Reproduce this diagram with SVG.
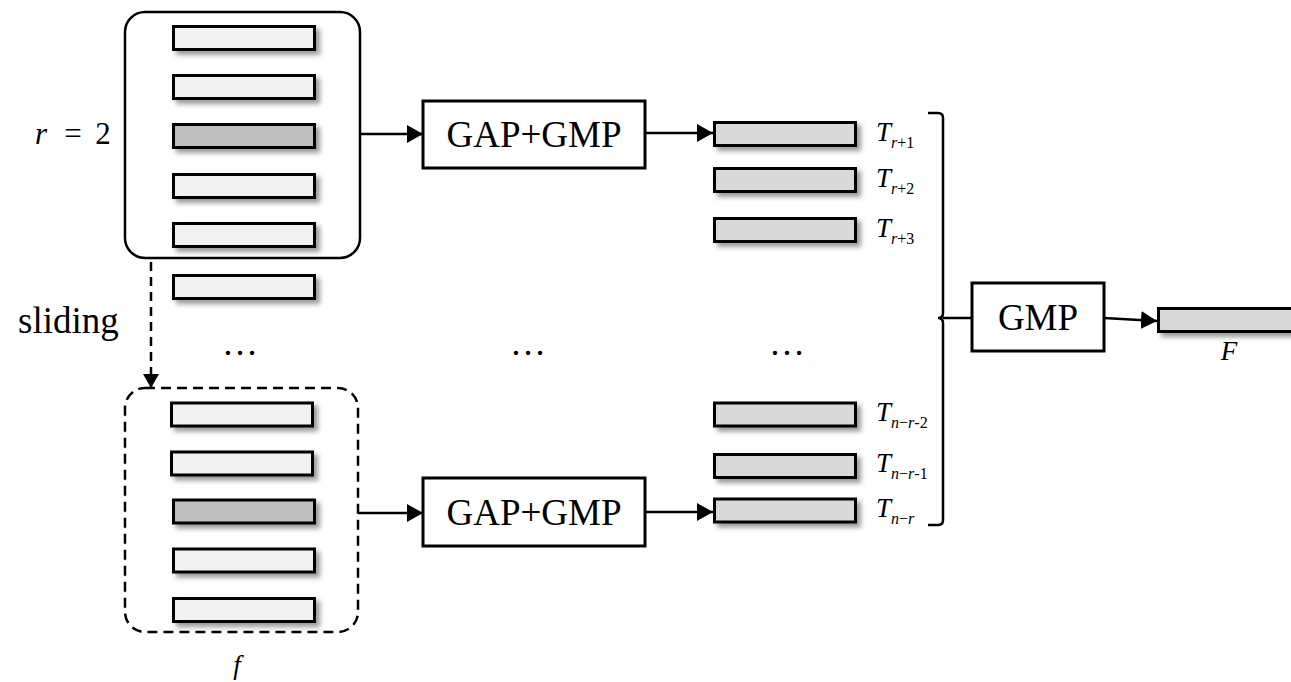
<svg xmlns="http://www.w3.org/2000/svg" width="1291" height="682" viewBox="0 0 1291 682">
<defs>
<filter id="sh" x="-10%" y="-40%" width="130%" height="200%">
<feDropShadow dx="4" dy="4" stdDeviation="2.5" flood-color="#000" flood-opacity="0.4"/>
</filter>
<marker id="ah" markerWidth="16" markerHeight="18" refX="16" refY="9" orient="auto" markerUnits="userSpaceOnUse">
<path d="M0,0 L16,9 L0,18 Z" fill="#000"/>
</marker>
<marker id="ahs" markerWidth="14" markerHeight="16" refX="14" refY="8" orient="auto" markerUnits="userSpaceOnUse">
<path d="M0,0 L14,8 L0,16 Z" fill="#000"/>
</marker>
</defs>
<style>
.bar{stroke:#000;stroke-width:3;filter:url(#sh)}
.lt{fill:#f1f1f1}
.dk{fill:#bfbfbf}
.tb{fill:#d9d9d9}
.box{fill:#fff;stroke:#000;stroke-width:3}
.win{fill:none;stroke:#000;stroke-width:2.5}
text{font-family:'Liberation Serif','Times New Roman','DejaVu Serif',serif;fill:#000}
.big{font-size:37px;text-anchor:middle}
.t{font-size:27px;font-style:italic}
.s{font-size:16px}
.i{font-style:italic}
.c{stroke:#000;stroke-width:2.5;fill:none}
</style>

<g id="window-top">
<rect class="win" x="125" y="12" width="235" height="246" rx="20"/>
<rect class="bar lt" x="173.5" y="26.5" width="141" height="23"/>
<rect class="bar lt" x="173.5" y="75.5" width="141" height="23"/>
<rect class="bar dk" x="173.5" y="124.5" width="141" height="23"/>
<rect class="bar lt" x="173.5" y="174.5" width="141" height="23"/>
<rect class="bar lt" x="173.5" y="223.5" width="141" height="23"/>
</g>
<g id="bar-extra">
<rect class="bar lt" x="173.5" y="275.5" width="141" height="23"/>
</g>

<g id="window-bottom">
<rect class="win" x="125" y="388" width="233" height="244" rx="20" stroke-dasharray="10,6"/>
<rect class="bar lt" x="171.5" y="403" width="141" height="23"/>
<rect class="bar lt" x="171.5" y="452" width="141" height="23"/>
<rect class="bar dk" x="173.5" y="500" width="141" height="23"/>
<rect class="bar lt" x="173.5" y="549" width="141" height="23"/>
<rect class="bar lt" x="173.5" y="598.5" width="141" height="23"/>
</g>

<g id="label-r">
<text x="35" y="144" font-size="31" font-style="italic">r</text>
<text x="73" y="144" font-size="31" text-anchor="middle">=</text>
<text x="103" y="144" font-size="31" text-anchor="middle">2</text>
</g>
<g id="label-sliding">
<text x="18" y="333" font-size="37">sliding</text>
</g>
<g id="label-f">
<text class="t" x="237" y="674" text-anchor="middle">f</text>
</g>

<g id="gap-top">
<rect class="box" x="423" y="101" width="222" height="67"/>
<text class="big" x="534" y="147">GAP+GMP</text>
</g>
<g id="gap-bottom">
<rect class="box" x="423" y="478" width="222" height="68"/>
<text class="big" x="534" y="525">GAP+GMP</text>
</g>

<g id="dots">
<text x="240" y="355" font-size="36" text-anchor="middle">…</text>
<text x="528" y="355" font-size="36" text-anchor="middle">…</text>
<text x="787" y="355" font-size="36" text-anchor="middle">…</text>
</g>

<g id="t-bars">
<rect class="bar tb" x="714.5" y="122.5" width="141" height="23"/>
<rect class="bar tb" x="714.5" y="168.5" width="141" height="23"/>
<rect class="bar tb" x="714.5" y="218.5" width="141" height="23"/>
<rect class="bar tb" x="714.5" y="403" width="141" height="23"/>
<rect class="bar tb" x="714.5" y="454.5" width="141" height="23"/>
<rect class="bar tb" x="714.5" y="499" width="141" height="23"/>
</g>
<g id="t-labels">
<text x="876" y="141"><tspan class="t">T</tspan><tspan class="s" dy="7"><tspan class="i">r</tspan>+1</tspan></text>
<text x="876" y="187"><tspan class="t">T</tspan><tspan class="s" dy="7"><tspan class="i">r</tspan>+2</tspan></text>
<text x="876" y="237"><tspan class="t">T</tspan><tspan class="s" dy="7"><tspan class="i">r</tspan>+3</tspan></text>
<text x="876" y="421"><tspan class="t">T</tspan><tspan class="s" dy="7"><tspan class="i">n</tspan>−<tspan class="i">r</tspan>-2</tspan></text>
<text x="876" y="472"><tspan class="t">T</tspan><tspan class="s" dy="7"><tspan class="i">n</tspan>−<tspan class="i">r</tspan>-1</tspan></text>
<text x="876" y="517"><tspan class="t">T</tspan><tspan class="s" dy="7"><tspan class="i">n</tspan>−<tspan class="i">r</tspan></tspan></text>
</g>

<g id="gmp">
<rect class="box" x="972" y="283" width="132" height="68"/>
<text class="big" x="1038" y="330">GMP</text>
</g>
<g id="output-F">
<rect class="bar tb" x="1158.5" y="308.5" width="200" height="23"/>
<text class="t" x="1229" y="360" text-anchor="middle">F</text>
</g>

<g id="connectors">
<line class="c" x1="360" y1="134" x2="423" y2="134" marker-end="url(#ah)"/>
<line class="c" x1="645" y1="133" x2="713" y2="133" marker-end="url(#ah)"/>
<line class="c" x1="358" y1="513" x2="423" y2="513" marker-end="url(#ah)"/>
<line class="c" x1="645" y1="512" x2="713" y2="512" marker-end="url(#ah)"/>
<line class="c" x1="151" y1="262" x2="151" y2="388" stroke-dasharray="9,6" marker-end="url(#ahs)"/>
<path class="c" d="M928,113 L938,113 Q943,113 943,118 L943,313 Q943,318 938,318 Q943,318 943,323 L943,520 Q943,525 938,525 L928,525"/>
<line class="c" x1="943" y1="318" x2="972" y2="318"/>
<line class="c" x1="1104" y1="318" x2="1157" y2="321" marker-end="url(#ah)"/>
</g>
</svg>
